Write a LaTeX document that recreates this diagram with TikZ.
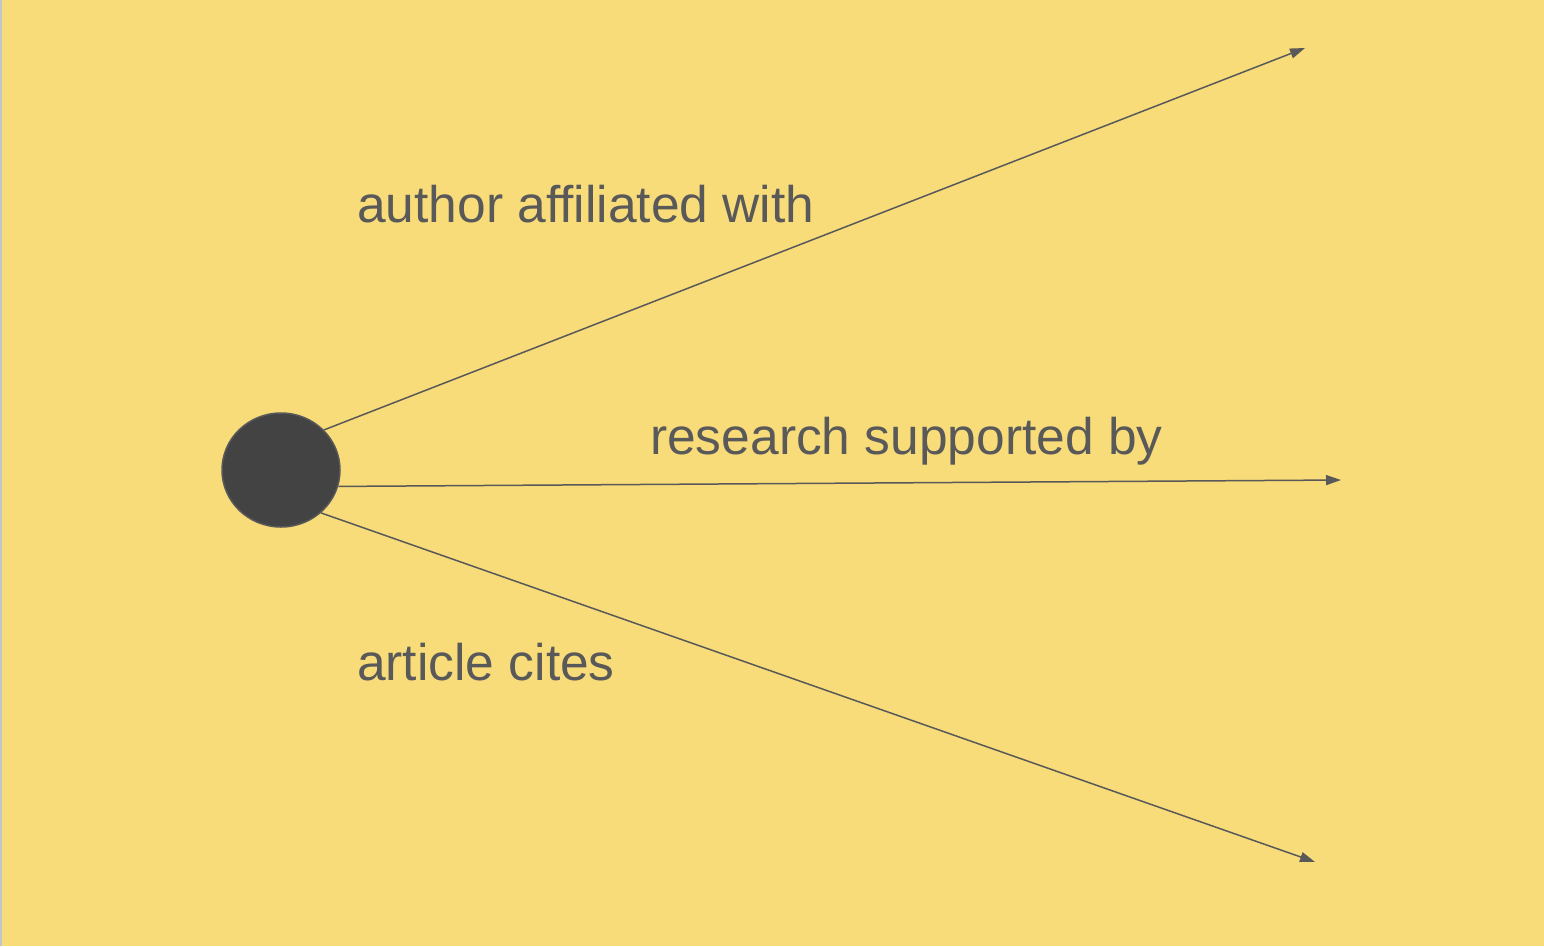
\documentclass[tikz,border=0pt]{standalone}
\usepackage{fontspec}
\setmainfont{Liberation Sans}
\usetikzlibrary{arrows.meta,shapes.geometric}
\definecolor{bg}{HTML}{F9DC7A}
\definecolor{ink}{HTML}{595959}
\definecolor{dot}{HTML}{434343}
\definecolor{edge}{HTML}{BFC6CC}
\tikzset{
  lbl/.style={anchor=base west, inner sep=0pt, text=ink, font=\fontsize{51.5}{60}\selectfont},
  conn/.style={draw=ink, line width=1.5pt, -{Triangle[length=15pt,width=10pt]}},
}
\begin{document}
\begin{tikzpicture}[x=1pt,y=-1pt]
\fill[bg] (0,0) rectangle (1544,946);
\useasboundingbox (0,0) rectangle (1544,946);
\fill[edge] (0,0) rectangle (2,946);
\node[ellipse, minimum width=118pt, minimum height=114pt, inner sep=0pt, fill=dot, draw=ink, line width=1.5pt] (c) at (281,470) {};
\coordinate (e1) at (1305,48);
\coordinate (e2) at (1341,480);
\coordinate (e3) at (1315,862);
\draw[conn] (c.43.6) -- (e1);
\draw[conn] (c.-16) -- (e2);
\draw[conn] (c.-47.6) -- (e3);
\node[lbl] (t1) at (357,222) {author affiliated with};
\node[lbl] (t2) at (650,454) {research supported by};
\node[lbl] (t3) at (357,680) {article cites};
\end{tikzpicture}
\end{document}
